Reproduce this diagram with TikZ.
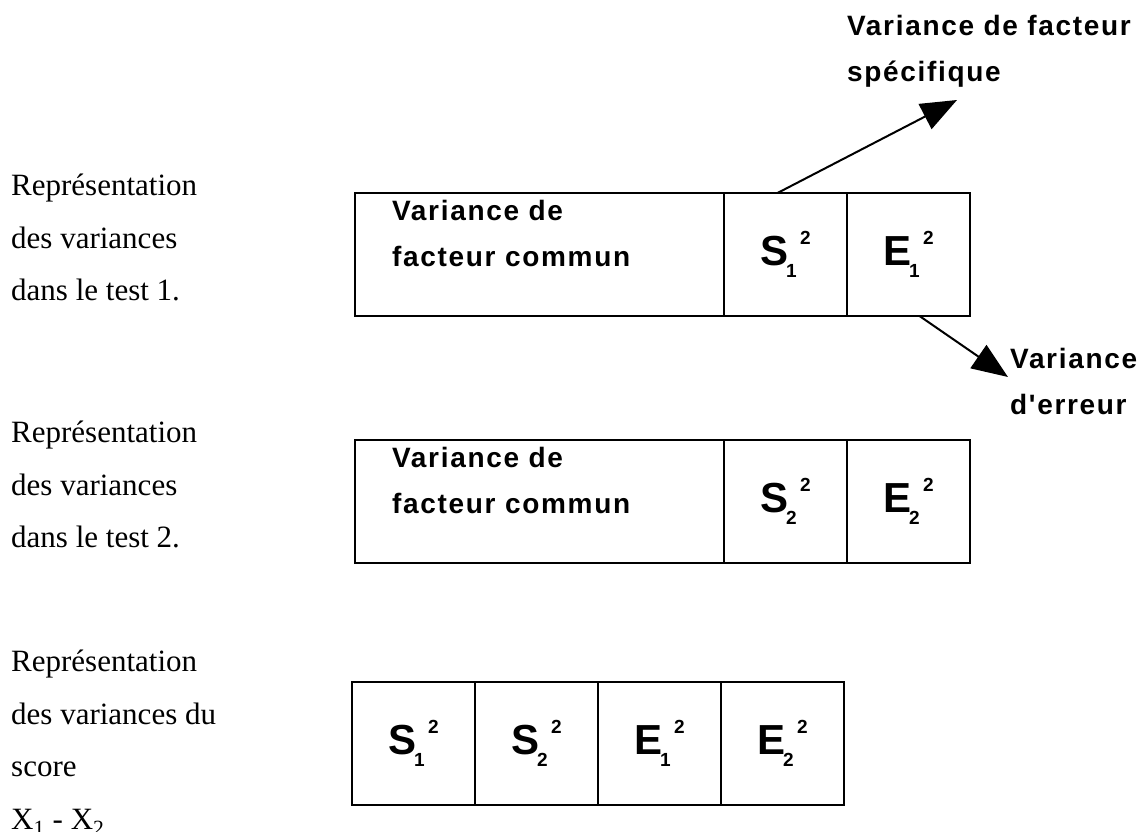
\documentclass[tikz,border=0pt]{standalone}
\usepackage{fontspec}
\setmainfont{Liberation Serif}
\setsansfont{Liberation Sans}
\newfontfamily\lblfont[LetterSpace=6]{Liberation Sans}
\usetikzlibrary{arrows.meta,positioning}

\newcommand{\vsq}[2]{#1\kern-0.05em\raisebox{-0.3em}{\fontsize{19}{19}\selectfont #2}\kern0.08em\raisebox{0.5em}{\fontsize{19}{19}\selectfont 2}}

\begin{document}
\begin{tikzpicture}[x=1pt,y=-1pt,
  cell/.style={draw,line width=2pt,minimum width=123pt,minimum height=123pt,inner sep=0pt,outer sep=0pt,
    font=\sffamily\bfseries\fontsize{42}{42}\selectfont},
  side/.style={anchor=north west,align=left,inner sep=0pt,font=\fontsize{31}{52.5}\selectfont},
  lbl/.style={anchor=north west,align=left,inner sep=0pt,font=\lblfont\bfseries\fontsize{28}{46}\selectfont},
  arr/.style={line width=2pt,-{Triangle[length=36pt,width=28pt]}}]
\useasboundingbox (0,0) rectangle (1143,832);

% test 1
\node[side] (rep1) at (11,174) {Représentation\\des variances\\dans le test 1.};
\node[cell,minimum width=369pt] (fc1) at (539.5,254.5) {};
\node[cell,right=0pt of fc1] (s1) {\vsq{S}{1}};
\node[cell,right=0pt of s1] (e1) {\vsq{E}{1}};
\node[lbl] (fc1t) at (392,200) {Variance de\\facteur commun};

\node[lbl] (spec) at (847,15) {Variance de facteur\\spécifique};
\coordinate (tipa) at (957,100);
\draw[arr] ([xshift=-8pt]s1.north) -- (tipa);

\node[lbl] (err) at (1010,348) {Variance\\d'erreur};
\coordinate (tipb) at (1008,377);
\draw[arr] ([xshift=11pt]e1.south) -- (tipb);

% test 2
\node[side] (rep2) at (11,421) {Représentation\\des variances\\dans le test 2.};
\node[cell,minimum width=369pt] (fc2) at (539.5,501.5) {};
\node[cell,right=0pt of fc2] (s2) {\vsq{S}{2}};
\node[cell,right=0pt of s2] (e2) {\vsq{E}{2}};
\node[lbl] (fc2t) at (392,447) {Variance de\\facteur commun};

% score X1 - X2
\node[side] (rep3) at (11,650) {Représentation\\des variances du\\score\\X\textsubscript{1} - X\textsubscript{2}};
\node[cell] (c1) at (413.5,743.5) {\vsq{S}{1}};
\node[cell,right=0pt of c1] (c2) {\vsq{S}{2}};
\node[cell,right=0pt of c2] (c3) {\vsq{E}{1}};
\node[cell,right=0pt of c3] (c4) {\vsq{E}{2}};
\end{tikzpicture}
\end{document}
